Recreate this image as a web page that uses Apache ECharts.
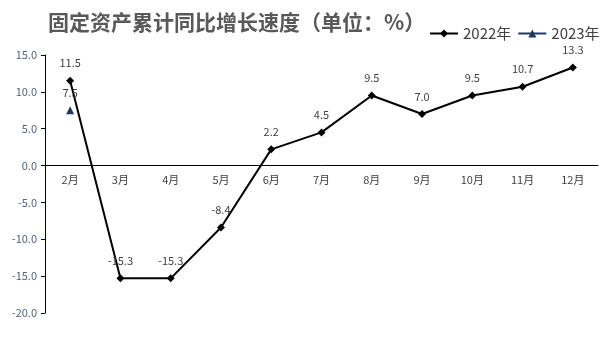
<!DOCTYPE html>
<html><head><meta charset="utf-8">
<script src="https://cdn.jsdelivr.net/npm/echarts@6/dist/echarts.min.js"></script>
<style>html,body{margin:0;padding:0;background:#fff}#c{width:612px;height:359px}</style>
</head><body><div id="c"></div>
<script>
var categories = ['2月','3月','4月','5月','6月','7月','8月','9月','10月','11月','12月'];
var values2022 = [11.5,-15.3,-15.3,-8.4,2.2,4.5,9.5,7.0,9.5,10.7,13.3];
var values2023 = [7.5,null,null,null,null,null,null,null,null,null,null];
var yMin = -20, yMax = 15, yStep = 5;
var gridTop = 55, gridBottom = 46, H = 359;
var plotH = H - gridTop - gridBottom;
var zeroOffset = -plotH * (0 - yMin) / (yMax - yMin);
var chart = echarts.init(document.getElementById('c'));
chart.setOption({
  animation:false,
  title:{text:'固定资产累计同比增长速度（单位：%）',left:43,top:7,
    textStyle:{fontFamily:'Noto Sans CJK SC',fontSize:21,fontWeight:'bold',color:'#595959'}},
  legend:{left:424,top:21,itemWidth:28,itemHeight:10,itemGap:6,
    textStyle:{fontFamily:'Noto Sans CJK SC',fontSize:15,color:'#404040'},
    data:['2022年','2023年']},
  grid:{left:45,right:14,top:gridTop,bottom:gridBottom},
  xAxis:{type:'category',data:categories,position:'bottom',offset:zeroOffset,
    axisLine:{onZero:false,lineStyle:{color:'#000',width:1}},
    axisTick:{inside:true,length:5,lineStyle:{color:'#000'}},
    axisLabel:{fontFamily:'Noto Sans CJK SC',fontSize:11,color:'#404040',margin:9}},
  yAxis:{type:'value',min:yMin,max:yMax,interval:yStep,
    axisLine:{show:true,lineStyle:{color:'#000'}},
    axisTick:{show:true,length:4,lineStyle:{color:'#000'}},
    splitLine:{show:false},
    axisLabel:{fontFamily:'Noto Sans CJK SC',fontSize:11,color:'#56607a',formatter:function(v){return v.toFixed(1);}}},
  series:[
    {name:'2022年',type:'line',data:values2022,symbol:'diamond',symbolSize:8,
     lineStyle:{color:'#000',width:2},itemStyle:{color:'#000'},
     label:{show:true,position:'top',distance:8,fontFamily:'Noto Sans CJK SC',fontSize:11,color:'#404040',
       formatter:function(p){return p.value.toFixed(1);}}},
    {name:'2023年',type:'line',data:values2023,symbol:'triangle',symbolSize:8,
     lineStyle:{color:'#1F3864',width:3},itemStyle:{color:'#1F3864'},
     label:{show:true,position:'top',distance:8,fontFamily:'Noto Sans CJK SC',fontSize:11,color:'#404040',
       formatter:function(p){return p.value.toFixed(1);}}}
  ]
});
</script></body></html>
